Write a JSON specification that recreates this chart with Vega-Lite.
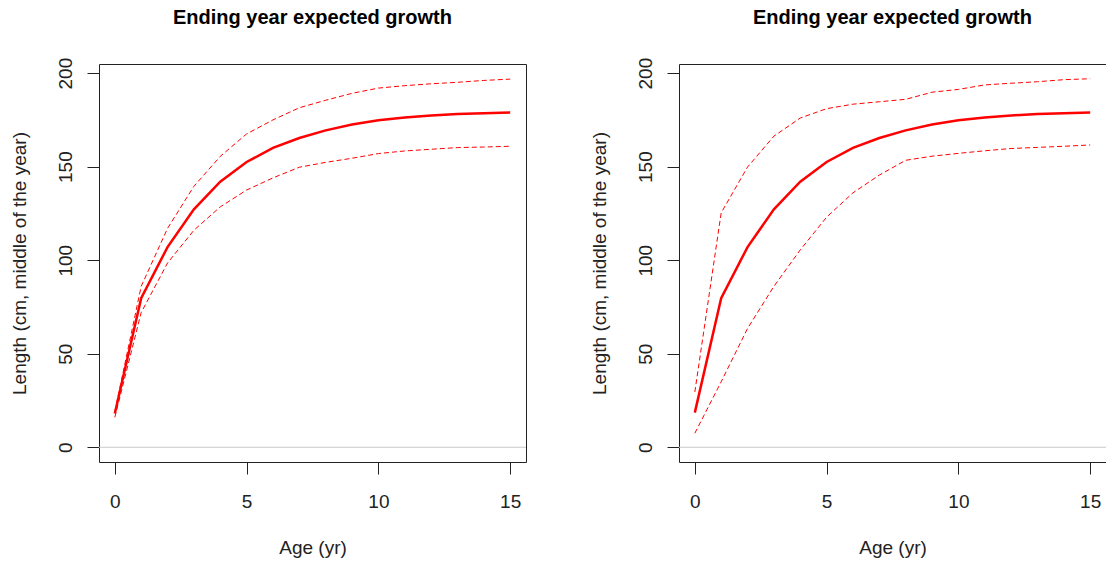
{
  "$schema": "https://vega.github.io/schema/vega-lite/v6.json",
  "background": "white",
  "padding": {"left": 9, "top": 7, "right": 0, "bottom": 0},
  "spacing": 153,
  "bounds": "flush",
  "datasets": {
    "panelA": [
      {"age": 0, "mid": 18, "lo": 16, "hi": 19},
      {"age": 1, "mid": 79.7, "lo": 72, "hi": 86},
      {"age": 2, "mid": 107, "lo": 98.5, "hi": 117},
      {"age": 3, "mid": 127.2, "lo": 116, "hi": 139.5},
      {"age": 4, "mid": 142, "lo": 128.5, "hi": 155.5},
      {"age": 5, "mid": 152.5, "lo": 137.5, "hi": 167.5},
      {"age": 6, "mid": 160, "lo": 144, "hi": 175},
      {"age": 7, "mid": 165.3, "lo": 149.7, "hi": 181.5},
      {"age": 8, "mid": 169.4, "lo": 152.3, "hi": 185.5},
      {"age": 9, "mid": 172.5, "lo": 154.5, "hi": 189.2},
      {"age": 10, "mid": 174.8, "lo": 157, "hi": 192},
      {"age": 11, "mid": 176.3, "lo": 158.4, "hi": 193.3},
      {"age": 12, "mid": 177.4, "lo": 159.3, "hi": 194.3},
      {"age": 13, "mid": 178.1, "lo": 160.2, "hi": 195.1},
      {"age": 14, "mid": 178.6, "lo": 160.5, "hi": 196.1},
      {"age": 15, "mid": 179, "lo": 160.9, "hi": 196.8}
    ],
    "panelB": [
      {"age": 0, "mid": 18.5, "lo": 7.5, "hi": 29.5},
      {"age": 1, "mid": 79.7, "lo": 35, "hi": 125.3},
      {"age": 2, "mid": 107, "lo": 63.5, "hi": 149.8},
      {"age": 3, "mid": 127.2, "lo": 86, "hi": 166.3},
      {"age": 4, "mid": 142, "lo": 105.5, "hi": 176},
      {"age": 5, "mid": 152.5, "lo": 123, "hi": 181},
      {"age": 6, "mid": 160, "lo": 136, "hi": 183.4},
      {"age": 7, "mid": 165.3, "lo": 145.5, "hi": 184.7},
      {"age": 8, "mid": 169.4, "lo": 153.4, "hi": 186},
      {"age": 9, "mid": 172.5, "lo": 155.6, "hi": 189.8},
      {"age": 10, "mid": 174.8, "lo": 157.1, "hi": 191.3},
      {"age": 11, "mid": 176.3, "lo": 158.5, "hi": 193.7},
      {"age": 12, "mid": 177.4, "lo": 159.7, "hi": 194.6},
      {"age": 13, "mid": 178.1, "lo": 160.3, "hi": 195.4},
      {"age": 14, "mid": 178.6, "lo": 160.9, "hi": 196.5},
      {"age": 15, "mid": 179, "lo": 161.6, "hi": 197}
    ],
    "zeroLine": [{"ref": 0}]
  },
  "config": {
    "font": "Liberation Sans",
    "view": {"stroke": "#222222", "strokeWidth": 1},
    "title": {
      "font": "Liberation Sans",
      "fontSize": 20,
      "fontWeight": "bold",
      "color": "#000000",
      "anchor": "middle",
      "frame": "group",
      "baseline": "alphabetic",
      "offset": 29
    },
    "axis": {
      "domain": false,
      "grid": false,
      "ticks": true,
      "tickSize": 12,
      "tickWidth": 1,
      "tickColor": "#222222",
      "labelFont": "Liberation Sans",
      "labelFontSize": 19,
      "labelColor": "#222222",
      "labelFlush": false,
      "labelOverlap": false,
      "titleFont": "Liberation Sans",
      "titleFontSize": 19,
      "titleFontWeight": "normal",
      "titleColor": "#222222"
    },
    "axisX": {
      "labelBaseline": "alphabetic",
      "labelPadding": 33.6,
      "titleBaseline": "alphabetic",
      "titleY": 91.6
    },
    "axisY": {
      "labelAngle": 270,
      "labelAlign": "center",
      "labelBaseline": "alphabetic",
      "labelPadding": 15.5,
      "titleAngle": 270,
      "titleAlign": "center",
      "titleBaseline": "alphabetic",
      "titleX": -74
    }
  },
  "hconcat": [
    {
      "width": 427,
      "height": 398,
      "title": "Ending year expected growth",
      "layer": [
        {
          "data": {"name": "zeroLine"},
          "mark": {"type": "rule", "color": "#c8c8c8", "strokeWidth": 1},
          "encoding": {
            "y": {"field": "ref", "type": "quantitative", "title": "Length (cm, middle of the year)", "axis": {"values": [0, 50, 100, 150, 200]}, "scale": {"domain": [-7.88, 204.88], "nice": false, "zero": false}}
          }
        },
        {
          "data": {"name": "panelA"},
          "mark": {"type": "line", "color": "#ff0000", "strokeWidth": 1, "strokeDash": [5, 3]},
          "encoding": {
            "x": {"field": "age", "type": "quantitative", "title": "Age (yr)", "axis": {"values": [0, 5, 10, 15]}, "scale": {"domain": [-0.6, 15.6], "nice": false, "zero": false}},
            "y": {"field": "hi", "type": "quantitative", "title": "Length (cm, middle of the year)", "axis": {"values": [0, 50, 100, 150, 200]}, "scale": {"domain": [-7.88, 204.88], "nice": false, "zero": false}}
          }
        },
        {
          "data": {"name": "panelA"},
          "mark": {"type": "line", "color": "#ff0000", "strokeWidth": 1, "strokeDash": [5, 3]},
          "encoding": {
            "x": {"field": "age", "type": "quantitative", "title": "Age (yr)", "axis": {"values": [0, 5, 10, 15]}, "scale": {"domain": [-0.6, 15.6], "nice": false, "zero": false}},
            "y": {"field": "lo", "type": "quantitative", "title": "Length (cm, middle of the year)", "axis": {"values": [0, 50, 100, 150, 200]}, "scale": {"domain": [-7.88, 204.88], "nice": false, "zero": false}}
          }
        },
        {
          "data": {"name": "panelA"},
          "mark": {"type": "line", "color": "#ff0000", "strokeWidth": 2.5},
          "encoding": {
            "x": {"field": "age", "type": "quantitative", "title": "Age (yr)", "axis": {"values": [0, 5, 10, 15]}, "scale": {"domain": [-0.6, 15.6], "nice": false, "zero": false}},
            "y": {"field": "mid", "type": "quantitative", "title": "Length (cm, middle of the year)", "axis": {"values": [0, 50, 100, 150, 200]}, "scale": {"domain": [-7.88, 204.88], "nice": false, "zero": false}}
          }
        }
      ]
    },
    {
      "width": 427,
      "height": 398,
      "title": "Ending year expected growth",
      "layer": [
        {
          "data": {"name": "zeroLine"},
          "mark": {"type": "rule", "color": "#c8c8c8", "strokeWidth": 1},
          "encoding": {
            "y": {"field": "ref", "type": "quantitative", "title": "Length (cm, middle of the year)", "axis": {"values": [0, 50, 100, 150, 200]}, "scale": {"domain": [-7.88, 204.88], "nice": false, "zero": false}}
          }
        },
        {
          "data": {"name": "panelB"},
          "mark": {"type": "line", "color": "#ff0000", "strokeWidth": 1, "strokeDash": [5, 3]},
          "encoding": {
            "x": {"field": "age", "type": "quantitative", "title": "Age (yr)", "axis": {"values": [0, 5, 10, 15]}, "scale": {"domain": [-0.6, 15.6], "nice": false, "zero": false}},
            "y": {"field": "hi", "type": "quantitative", "title": "Length (cm, middle of the year)", "axis": {"values": [0, 50, 100, 150, 200]}, "scale": {"domain": [-7.88, 204.88], "nice": false, "zero": false}}
          }
        },
        {
          "data": {"name": "panelB"},
          "mark": {"type": "line", "color": "#ff0000", "strokeWidth": 1, "strokeDash": [5, 3]},
          "encoding": {
            "x": {"field": "age", "type": "quantitative", "title": "Age (yr)", "axis": {"values": [0, 5, 10, 15]}, "scale": {"domain": [-0.6, 15.6], "nice": false, "zero": false}},
            "y": {"field": "lo", "type": "quantitative", "title": "Length (cm, middle of the year)", "axis": {"values": [0, 50, 100, 150, 200]}, "scale": {"domain": [-7.88, 204.88], "nice": false, "zero": false}}
          }
        },
        {
          "data": {"name": "panelB"},
          "mark": {"type": "line", "color": "#ff0000", "strokeWidth": 2.5},
          "encoding": {
            "x": {"field": "age", "type": "quantitative", "title": "Age (yr)", "axis": {"values": [0, 5, 10, 15]}, "scale": {"domain": [-0.6, 15.6], "nice": false, "zero": false}},
            "y": {"field": "mid", "type": "quantitative", "title": "Length (cm, middle of the year)", "axis": {"values": [0, 50, 100, 150, 200]}, "scale": {"domain": [-7.88, 204.88], "nice": false, "zero": false}}
          }
        }
      ]
    }
  ]
}
